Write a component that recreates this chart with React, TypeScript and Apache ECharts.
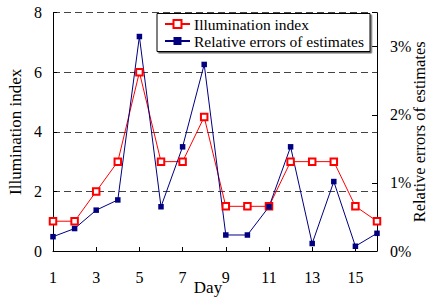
import React, { useEffect, useRef } from "react";
import * as echarts from "echarts";

const days = ["1", "2", "3", "4", "5", "6", "7", "8", "9", "10", "11", "12", "13", "14", "15", "16"];
const illuminationIndex = [1, 1, 2, 3, 6, 3, 3, 4.5, 1.5, 1.5, 1.5, 3, 3, 3, 1.5, 1];
const relativeErrors = [0.21, 0.33, 0.6, 0.75, 3.15, 0.65, 1.53, 2.74, 0.235, 0.235, 0.65, 1.53, 0.11, 1.02, 0.07, 0.26];
const seriesNames = ["Illumination index", "Relative errors of estimates"];

const FONT = "Liberation Serif";

export default function App() {
  const ref = useRef<HTMLDivElement>(null);
  useEffect(() => {
    if (!ref.current) return;
    const chart = echarts.init(ref.current, null, { renderer: "svg" });
    chart.setOption({
      animation: false,
      backgroundColor: "#fff",
      textStyle: { fontFamily: FONT, color: "#000" },
      grid: { left: 53, right: 50, top: 12.7, bottom: 51, containLabel: false, outerBoundsMode: "none" },
      legend: {
        left: 157,
        top: 13.5,
        orient: "vertical",
        data: seriesNames,
        itemWidth: 25,
        itemHeight: 10,
        itemGap: 0,
        padding: [2, 6, 2, 7],
        borderColor: "#000",
        borderWidth: 1,
        backgroundColor: "#fff",
        shadowColor: "#666",
        shadowOffsetX: 1.5,
        shadowOffsetY: 1.5,
        shadowBlur: 0,
        textStyle: { fontFamily: FONT, fontSize: 15.5, color: "#000", lineHeight: 17, padding: [0, 0, 0, -1] },
      },
      xAxis: {
        type: "category",
        data: days,
        boundaryGap: false,
        name: "Day",
        nameLocation: "middle",
        nameGap: 30,
        nameMoveOverlap: false,
        nameTextStyle: { fontFamily: FONT, fontSize: 17, color: "#000", lineHeight: 12, padding: [0, 14, 0, 0] },
        axisLine: { lineStyle: { color: "#000", width: 1 } },
        axisTick: { inside: true, length: 4, interval: 1, lineStyle: { color: "#000" } },
        axisLabel: { interval: 1, margin: 21, fontFamily: FONT, fontSize: 16, color: "#000", lineHeight: 11 },
        splitLine: { show: false },
      },
      yAxis: [
        {
          type: "value",
          min: 0,
          max: 8,
          interval: 2,
          name: "Illumination index",
          nameLocation: "middle",
          nameRotate: 90,
          nameGap: 29,
          nameMoveOverlap: false,
          nameTextStyle: { fontFamily: FONT, fontSize: 17, color: "#000" },
          axisLine: { show: true, lineStyle: { color: "#000", width: 1 } },
          axisTick: { show: true, inside: true, length: 4, lineStyle: { color: "#000" } },
          axisLabel: { margin: 11, fontFamily: FONT, fontSize: 16, color: "#000" },
          splitLine: { show: true, lineStyle: { color: "#444", type: [7, 4], width: 1 } },
        },
        {
          type: "value",
          position: "right",
          min: 0,
          max: 3.5,
          interval: 1,
          name: "Relative errors of estimates",
          nameLocation: "middle",
          nameRotate: 90,
          nameGap: 34,
          nameMoveOverlap: false,
          nameTextStyle: { fontFamily: FONT, fontSize: 16.5, color: "#000", lineHeight: 16 },
          axisLine: { show: true, lineStyle: { color: "#000", width: 1 } },
          axisTick: { show: true, inside: true, length: 5, lineStyle: { color: "#000" } },
          axisLabel: {
            margin: 13,
            fontFamily: FONT,
            fontSize: 16,
            color: "#000",
            formatter: (v: number) => (Number.isInteger(v) ? `${v}%` : ""),
          },
          splitLine: { show: false },
        },
      ],
      series: [
        {
          name: seriesNames[0],
          type: "line",
          yAxisIndex: 0,
          data: illuminationIndex,
          symbol: "emptyRect",
          symbolSize: 6.5,
          color: "#ff0000",
          lineStyle: { color: "#ff0000", width: 1 },
          itemStyle: { color: "#ff0000", borderColor: "#ff0000", borderWidth: 1 },
        },
        {
          name: seriesNames[1],
          type: "line",
          yAxisIndex: 1,
          data: relativeErrors,
          symbol: "rect",
          symbolSize: 5.5,
          color: "#000080",
          lineStyle: { color: "#000080", width: 1 },
          itemStyle: { color: "#000080" },
        },
      ],
    });
    return () => chart.dispose();
  }, []);
  return <div ref={ref} style={{ position: "fixed", left: 0, top: 0, width: 427, height: 302 }} />;
}
